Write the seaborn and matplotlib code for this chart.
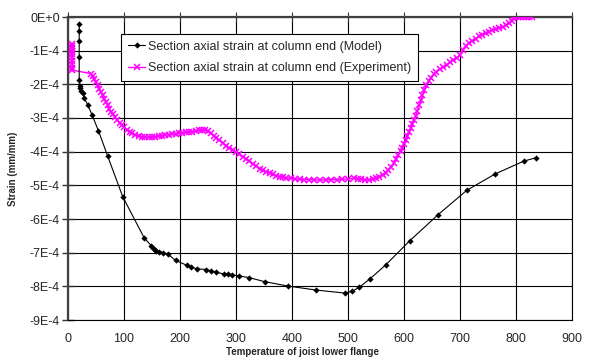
import numpy as np
import pandas as pd
import matplotlib
matplotlib.use("Agg")
import matplotlib.pyplot as plt
from matplotlib.ticker import FuncFormatter
import seaborn as sns

# Model: temperature (deg C) and axial strain (x1E-4 mm/mm)
model_temp = [20, 20, 20, 20, 20, 20.6, 21.9, 23.6, 26, 29, 35, 43, 54.4, 71,
              97.8, 136, 149, 152, 155, 158, 163, 169, 178, 192, 213, 219, 230,
              247, 255, 264, 278, 285, 292, 305, 323, 351, 392, 443, 494, 507,
              520, 539, 567, 610, 661, 712, 763, 814, 836]
model_strain = [-0.20, -0.42, -0.72, -1.19, -1.88, -2.06, -2.12, -2.20, -2.27,
                -2.40, -2.60, -2.91, -3.38, -4.14, -5.34, -6.56, -6.80, -6.87,
                -6.92, -6.95, -6.97, -7.00, -7.04, -7.23, -7.38, -7.42, -7.48,
                -7.50, -7.54, -7.58, -7.63, -7.64, -7.66, -7.69, -7.74, -7.86,
                -7.99, -8.11, -8.20, -8.15, -8.03, -7.78, -7.37, -6.65, -5.87,
                -5.15, -4.66, -4.28, -4.18]

# Experiment: temperature (deg C) and axial strain (x1E-4 mm/mm)
exp_temp = [8, 7, 8, 7, 8, 7, 8, 7, 8, 8, 41, 44, 47, 50, 53, 56, 59, 62, 65,
            68, 71, 74, 77, 80, 84, 88, 92, 96, 100, 105, 110, 115, 120, 126,
            132, 138, 144, 150, 156, 162, 168, 174, 180, 186, 192, 198, 204,
            210, 216, 222, 228, 234, 240, 245, 250, 255, 260, 265, 270, 276,
            282, 288, 294, 300, 306, 312, 318, 324, 330, 336, 342, 348, 354,
            360, 366, 372, 378, 384, 390, 398, 406, 414, 422, 430, 440, 450,
            460, 470, 480, 490, 500, 510, 517, 524, 530, 537, 544, 550, 556,
            562, 567, 572, 577, 582, 586, 590, 594, 597, 600, 603, 606, 609,
            612, 615, 618, 621, 624, 627, 630, 633, 636, 640, 644, 648, 653,
            658, 664, 670, 676, 682, 688, 694, 700, 705, 710, 716, 722, 728,
            734, 740, 746, 752, 758, 764, 770, 776, 782, 788, 792, 795, 798,
            803, 808, 813, 818, 823, 828]
exp_strain = [-0.79, -0.85, -0.92, -1.00, -1.10, -1.20, -1.30, -1.40, -1.50,
              -1.58, -1.68, -1.76, -1.85, -1.94, -2.03, -2.13, -2.23, -2.33,
              -2.43, -2.53, -2.62, -2.72, -2.81, -2.89, -2.98, -3.07, -3.15,
              -3.22, -3.28, -3.35, -3.41, -3.46, -3.50, -3.54, -3.56, -3.57,
              -3.57, -3.56, -3.55, -3.54, -3.53, -3.51, -3.50, -3.48, -3.47,
              -3.46, -3.45, -3.43, -3.42, -3.41, -3.39, -3.37, -3.35, -3.36,
              -3.40, -3.46, -3.52, -3.59, -3.66, -3.74, -3.82, -3.89, -3.96,
              -4.02, -4.08, -4.15, -4.21, -4.28, -4.36, -4.43, -4.50, -4.55,
              -4.60, -4.64, -4.67, -4.71, -4.74, -4.76, -4.78, -4.79, -4.81,
              -4.82, -4.83, -4.83, -4.84, -4.84, -4.84, -4.83, -4.83, -4.82,
              -4.81, -4.79, -4.80, -4.82, -4.83, -4.83, -4.81, -4.78, -4.74,
              -4.68, -4.62, -4.55, -4.47, -4.35, -4.22, -4.09, -3.98, -3.88,
              -3.77, -3.66, -3.54, -3.42, -3.30, -3.18, -3.06, -2.93, -2.78,
              -2.62, -2.47, -2.32, -2.18, -2.03, -1.90, -1.80, -1.70, -1.62,
              -1.55, -1.49, -1.42, -1.35, -1.29, -1.22, -1.12, -0.98, -0.87,
              -0.78, -0.71, -0.64, -0.57, -0.52, -0.48, -0.44, -0.40, -0.36,
              -0.32, -0.29, -0.25, -0.19, -0.12, -0.04, -0.01, 0, 0, 0, 0, 0, 0]

x_ticks = [0, 100, 200, 300, 400, 500, 600, 700, 800, 900]
y_ticks = [0, -1, -2, -3, -4, -5, -6, -7, -8, -9]

model_label = "Section axial strain at column end (Model)"
exp_label = "Section axial strain at column end (Experiment)"

model_df = pd.DataFrame({"T": model_temp,
                         "strain": np.array(model_strain) * 1e-4})
exp_df = pd.DataFrame({"T": exp_temp,
                       "strain": np.array(exp_strain) * 1e-4})

sns.set_style("white")
plt.rcParams["font.family"] = ["Liberation Sans", "DejaVu Sans"]

MAGENTA = "#FF00FF"

fig = plt.figure(figsize=(5.89, 3.58), dpi=100)
ax = fig.add_axes([68 / 589, 1 - 320 / 358, 504 / 589, 303 / 358])

sns.lineplot(data=model_df, x="T", y="strain", ax=ax, estimator=None,
             sort=False, color="black", lw=0.8, marker="D", markersize=3.2,
             markerfacecolor="black", markeredgecolor="black",
             markeredgewidth=0, label=model_label, zorder=4)
sns.lineplot(data=exp_df, x="T", y="strain", ax=ax, estimator=None,
             sort=False, color=MAGENTA, lw=1.0, marker="x", markersize=4.5,
             markeredgecolor=MAGENTA, markerfacecolor=MAGENTA,
             markeredgewidth=1.1, label=exp_label, zorder=3)

ax.set_xlim(0, 900)
ax.set_ylim(-9e-4, 0)
ax.set_xticks(x_ticks)
ax.set_yticks([v * 1e-4 for v in y_ticks])


def sci_label(v, pos):
    n = int(round(v * 1e4))
    if n == 0:
        return "0E+0"
    return f"{n}E-4"


ax.yaxis.set_major_formatter(FuncFormatter(sci_label))
ax.grid(True, color="black", lw=0.8)
ax.set_axisbelow(True)

ax.tick_params(axis="x", top=True, bottom=False, labeltop=False,
               labelbottom=True, direction="inout", length=7, width=0.8,
               color="#333333", labelsize=9, pad=6)
ax.tick_params(axis="y", left=True, direction="inout", length=8, width=1.0,
               color="#333333", labelsize=9, pad=2)

for side in ["left", "top"]:
    ax.spines[side].set_color("#404040")
    ax.spines[side].set_linewidth(1.6)
for side in ["right", "bottom"]:
    ax.spines[side].set_color("black")
    ax.spines[side].set_linewidth(0.8)

ax.set_xlabel("Temperature of joist lower flange", fontsize=7,
              fontweight="bold")
ax.xaxis.set_label_coords((303 - 68) / 504, -0.09)
ax.set_ylabel("Strain (mm/mm)", fontsize=7, fontweight="bold")
ax.yaxis.set_label_coords(-0.1, 0.5)

leg = ax.legend(loc="upper left", bbox_to_anchor=(0.105, 0.944),
                borderaxespad=0, fontsize=9, frameon=True, fancybox=False,
                handlelength=1.4, handletextpad=0.25, borderpad=0.55,
                labelspacing=0.75)
leg.get_frame().set_edgecolor("black")
leg.get_frame().set_linewidth(0.8)
leg.get_frame().set_facecolor("white")
leg.get_frame().set_alpha(1)
leg.set_zorder(10)

fig.savefig("out.png", dpi=100)
